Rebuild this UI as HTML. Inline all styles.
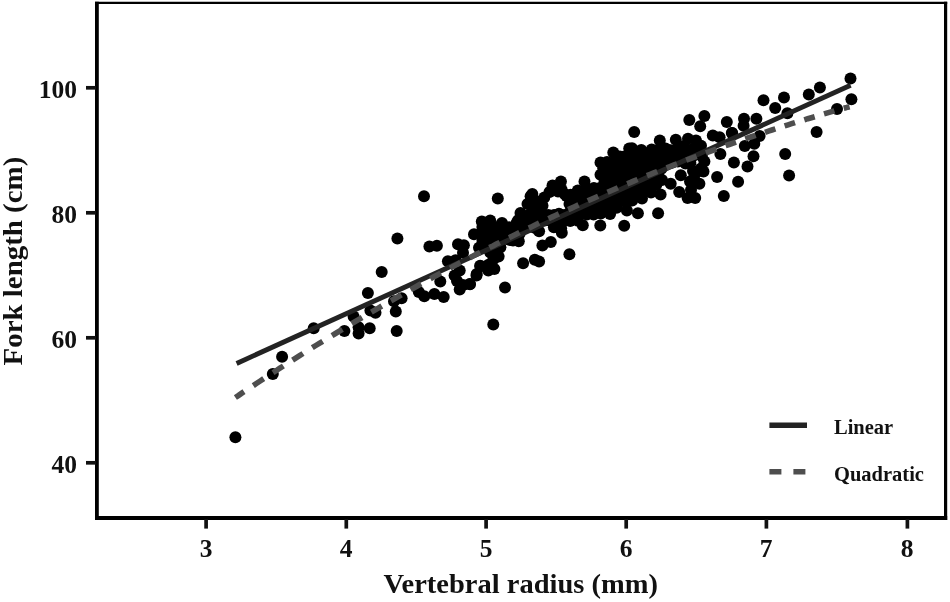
<!DOCTYPE html>
<html><head><meta charset="utf-8"><title>Fork length vs vertebral radius</title>
<style>
html,body{margin:0;padding:0;background:#fff;}
body{width:950px;height:602px;overflow:hidden;position:relative;font-family:"Liberation Serif",serif;font-weight:bold;color:#111;}
svg{position:absolute;left:0;top:0;}
svg text{font-family:"Liberation Serif",serif;font-weight:bold;fill:#111;}
</style></head><body>
<svg width="950" height="602" viewBox="0 0 950 602">
<rect x="0" y="0" width="950" height="602" fill="#fff"/>
<!-- frame -->
<g stroke="#000" fill="none">
<line x1="95" y1="2.9" x2="947.2" y2="2.9" stroke-width="2.2"/>
<line x1="96.9" y1="1.7" x2="96.9" y2="520" stroke-width="3.8"/>
<line x1="945.6" y1="1.7" x2="945.6" y2="520" stroke-width="3.2"/>
<line x1="95" y1="518" x2="947.2" y2="518" stroke-width="4.2"/>
</g>
<!-- ticks -->
<g stroke="#111" stroke-width="3.7">
<line x1="86" y1="87.8" x2="96" y2="87.8"/>
<line x1="86" y1="212.8" x2="96" y2="212.8"/>
<line x1="86" y1="337.8" x2="96" y2="337.8"/>
<line x1="86" y1="462.8" x2="96" y2="462.8"/>
<line x1="206.1" y1="519" x2="206.1" y2="528.6"/>
<line x1="346.3" y1="519" x2="346.3" y2="528.6"/>
<line x1="486.1" y1="519" x2="486.1" y2="528.6"/>
<line x1="626.2" y1="519" x2="626.2" y2="528.6"/>
<line x1="766.4" y1="519" x2="766.4" y2="528.6"/>
<line x1="907.4" y1="519" x2="907.4" y2="528.6"/>
</g>
<g font-size="25.5" text-anchor="end">
<text x="77" y="97.8">100</text>
<text x="77" y="222.8">80</text>
<text x="77" y="347.8">60</text>
<text x="77" y="472.8">40</text>
</g>
<g font-size="25.5" text-anchor="middle">
<text x="206" y="556.8">3</text>
<text x="346.2" y="556.8">4</text>
<text x="486" y="556.8">5</text>
<text x="626.2" y="556.8">6</text>
<text x="766.2" y="556.8">7</text>
<text x="907" y="556.8">8</text>
</g>
<text transform="translate(520.8,592.8) scale(1.018,1)" font-size="28" text-anchor="middle">Vertebral radius (mm)</text>
<text transform="translate(21.9,261.1) rotate(-90) scale(1.033,1)" font-size="28" text-anchor="middle">Fork length (cm)</text>
<!-- data -->
<g fill="#000"><circle cx="235.4" cy="437.2" r="6.0"/><circle cx="272.8" cy="374.0" r="6.0"/><circle cx="282.1" cy="356.8" r="6.0"/><circle cx="313.7" cy="328.3" r="6.0"/><circle cx="344.4" cy="331.0" r="6.0"/><circle cx="358.6" cy="327.2" r="6.0"/><circle cx="358.6" cy="333.5" r="6.0"/><circle cx="353.6" cy="316.5" r="6.0"/><circle cx="369.7" cy="328.3" r="6.0"/><circle cx="396.7" cy="331.0" r="6.0"/><circle cx="395.8" cy="311.4" r="6.0"/><circle cx="370.4" cy="310.5" r="6.0"/><circle cx="375.5" cy="312.8" r="6.0"/><circle cx="367.9" cy="292.9" r="6.0"/><circle cx="381.7" cy="272.1" r="6.0"/><circle cx="397.4" cy="238.4" r="6.0"/><circle cx="424.0" cy="196.3" r="6.0"/><circle cx="394.0" cy="301.3" r="6.0"/><circle cx="401.6" cy="298.2" r="6.0"/><circle cx="418.8" cy="292.0" r="6.0"/><circle cx="424.3" cy="296.2" r="6.0"/><circle cx="434.4" cy="293.9" r="6.0"/><circle cx="443.7" cy="297.1" r="6.0"/><circle cx="440.3" cy="281.5" r="6.0"/><circle cx="459.7" cy="289.5" r="6.0"/><circle cx="469.8" cy="284.0" r="6.0"/><circle cx="476.5" cy="275.5" r="6.0"/><circle cx="480.7" cy="266.2" r="6.0"/><circle cx="454.6" cy="275.5" r="6.0"/><circle cx="459.7" cy="270.4" r="6.0"/><circle cx="447.9" cy="261.2" r="6.0"/><circle cx="455.5" cy="260.3" r="6.0"/><circle cx="463.0" cy="252.7" r="6.0"/><circle cx="458.0" cy="244.3" r="6.0"/><circle cx="463.9" cy="245.2" r="6.0"/><circle cx="429.4" cy="246.5" r="6.0"/><circle cx="436.9" cy="245.7" r="6.0"/><circle cx="474.0" cy="234.2" r="6.0"/><circle cx="486.6" cy="233.4" r="6.0"/><circle cx="483.3" cy="242.6" r="6.0"/><circle cx="488.3" cy="270.4" r="6.0"/><circle cx="493.3" cy="324.4" r="6.0"/><circle cx="505.0" cy="287.6" r="6.0"/><circle cx="523.1" cy="263.2" r="6.0"/><circle cx="534.8" cy="259.8" r="6.0"/><circle cx="539.1" cy="261.5" r="6.0"/><circle cx="569.4" cy="254.2" r="6.0"/><circle cx="542.4" cy="245.5" r="6.0"/><circle cx="550.8" cy="242.1" r="6.0"/><circle cx="624.2" cy="225.7" r="6.0"/><circle cx="600.3" cy="225.5" r="6.0"/><circle cx="582.8" cy="225.3" r="6.0"/><circle cx="561.8" cy="232.8" r="6.0"/><circle cx="557.6" cy="227.0" r="6.0"/><circle cx="539.1" cy="231.2" r="6.0"/><circle cx="476.7" cy="274.1" r="6.0"/><circle cx="470.0" cy="284.2" r="6.0"/><circle cx="480.1" cy="265.7" r="6.0"/><circle cx="488.5" cy="264.8" r="6.0"/><circle cx="494.4" cy="269.1" r="6.0"/><circle cx="498.6" cy="256.4" r="6.0"/><circle cx="481.8" cy="221.4" r="6.0"/><circle cx="490.2" cy="220.6" r="6.0"/><circle cx="497.8" cy="198.4" r="6.0"/><circle cx="502.0" cy="223.0" r="6.0"/><circle cx="518.8" cy="241.3" r="6.0"/><circle cx="513.0" cy="240.5" r="6.0"/><circle cx="520.5" cy="213.0" r="6.0"/><circle cx="532.3" cy="194.0" r="6.0"/><circle cx="527.5" cy="204.0" r="6.0"/><circle cx="530.6" cy="196.3" r="6.0"/><circle cx="544.3" cy="197.4" r="6.0"/><circle cx="552.5" cy="185.6" r="6.0"/><circle cx="560.9" cy="181.4" r="6.0"/><circle cx="584.5" cy="181.4" r="6.0"/><circle cx="577.8" cy="190.6" r="6.0"/><circle cx="600.5" cy="162.5" r="6.0"/><circle cx="613.3" cy="152.6" r="6.0"/><circle cx="619.8" cy="156.5" r="6.0"/><circle cx="629.2" cy="148.5" r="6.0"/><circle cx="634.2" cy="131.9" r="6.0"/><circle cx="689.3" cy="119.9" r="6.0"/><circle cx="704.4" cy="115.9" r="6.0"/><circle cx="700.2" cy="126.3" r="6.0"/><circle cx="726.8" cy="122.1" r="6.0"/><circle cx="744.0" cy="118.7" r="6.0"/><circle cx="756.4" cy="118.8" r="6.0"/><circle cx="712.8" cy="135.6" r="6.0"/><circle cx="719.6" cy="137.3" r="6.0"/><circle cx="732.2" cy="133.0" r="6.0"/><circle cx="696.0" cy="140.6" r="6.0"/><circle cx="701.0" cy="145.7" r="6.0"/><circle cx="675.8" cy="139.8" r="6.0"/><circle cx="659.8" cy="140.6" r="6.0"/><circle cx="632.0" cy="148.2" r="6.0"/><circle cx="641.3" cy="149.9" r="6.0"/><circle cx="720.4" cy="154.1" r="6.0"/><circle cx="733.9" cy="162.5" r="6.0"/><circle cx="747.5" cy="166.6" r="6.0"/><circle cx="753.5" cy="156.3" r="6.0"/><circle cx="744.8" cy="145.9" r="6.0"/><circle cx="754.3" cy="143.8" r="6.0"/><circle cx="717.1" cy="177.0" r="6.0"/><circle cx="738.1" cy="181.8" r="6.0"/><circle cx="680.8" cy="175.2" r="6.0"/><circle cx="699.4" cy="171.0" r="6.0"/><circle cx="704.4" cy="161.5" r="6.0"/><circle cx="637.9" cy="213.2" r="6.0"/><circle cx="658.1" cy="213.2" r="6.0"/><circle cx="610.1" cy="214.0" r="6.0"/><circle cx="626.9" cy="210.6" r="6.0"/><circle cx="723.8" cy="196.0" r="6.0"/><circle cx="687.6" cy="198.0" r="6.0"/><circle cx="695.2" cy="198.0" r="6.0"/><circle cx="679.2" cy="192.1" r="6.0"/><circle cx="660.6" cy="194.6" r="6.0"/><circle cx="670.7" cy="183.7" r="6.0"/><circle cx="699.4" cy="183.7" r="6.0"/><circle cx="701.0" cy="168.5" r="6.0"/><circle cx="850.5" cy="78.6" r="6.0"/><circle cx="851.4" cy="99.2" r="6.0"/><circle cx="837.0" cy="108.9" r="6.0"/><circle cx="819.9" cy="87.4" r="6.0"/><circle cx="808.8" cy="94.6" r="6.0"/><circle cx="784.0" cy="97.5" r="6.0"/><circle cx="763.5" cy="100.2" r="6.0"/><circle cx="775.2" cy="108.1" r="6.0"/><circle cx="787.4" cy="113.2" r="6.0"/><circle cx="816.6" cy="132.1" r="6.0"/><circle cx="743.6" cy="125.8" r="6.0"/><circle cx="731.8" cy="133.0" r="6.0"/><circle cx="759.6" cy="135.9" r="6.0"/><circle cx="785.2" cy="154.0" r="6.0"/><circle cx="789.1" cy="175.6" r="6.0"/><circle cx="490.2" cy="230.4" r="6.0"/><circle cx="482.6" cy="243.0" r="6.0"/><circle cx="495.3" cy="253.2" r="6.0"/><circle cx="505.4" cy="230.4" r="6.0"/><circle cx="516.7" cy="222.8" r="6.0"/><circle cx="651.7" cy="149.6" r="6.0"/><circle cx="658.5" cy="149.7" r="6.0"/><circle cx="665.5" cy="148.6" r="6.0"/><circle cx="670.8" cy="150.2" r="6.0"/><circle cx="677.8" cy="149.0" r="6.0"/><circle cx="685.7" cy="149.4" r="6.0"/><circle cx="691.9" cy="149.5" r="6.0"/><circle cx="698.0" cy="148.8" r="6.0"/><circle cx="623.3" cy="156.7" r="6.0"/><circle cx="629.5" cy="156.5" r="6.0"/><circle cx="636.3" cy="155.1" r="6.0"/><circle cx="643.0" cy="156.2" r="6.0"/><circle cx="648.6" cy="155.1" r="6.0"/><circle cx="656.2" cy="155.9" r="6.0"/><circle cx="662.4" cy="156.8" r="6.0"/><circle cx="668.9" cy="156.8" r="6.0"/><circle cx="674.8" cy="156.6" r="6.0"/><circle cx="681.4" cy="156.9" r="6.0"/><circle cx="688.8" cy="155.2" r="6.0"/><circle cx="693.8" cy="155.4" r="6.0"/><circle cx="701.9" cy="155.9" r="6.0"/><circle cx="607.0" cy="162.1" r="6.0"/><circle cx="613.3" cy="162.3" r="6.0"/><circle cx="619.5" cy="162.7" r="6.0"/><circle cx="626.4" cy="163.3" r="6.0"/><circle cx="633.1" cy="163.4" r="6.0"/><circle cx="640.0" cy="163.5" r="6.0"/><circle cx="646.1" cy="161.8" r="6.0"/><circle cx="653.0" cy="163.4" r="6.0"/><circle cx="659.6" cy="162.6" r="6.0"/><circle cx="665.7" cy="161.9" r="6.0"/><circle cx="672.4" cy="162.6" r="6.0"/><circle cx="677.8" cy="161.6" r="6.0"/><circle cx="685.5" cy="163.5" r="6.0"/><circle cx="690.4" cy="163.1" r="6.0"/><circle cx="603.3" cy="168.3" r="6.0"/><circle cx="609.6" cy="169.5" r="6.0"/><circle cx="617.2" cy="168.1" r="6.0"/><circle cx="623.2" cy="168.1" r="6.0"/><circle cx="629.9" cy="168.7" r="6.0"/><circle cx="636.8" cy="170.0" r="6.0"/><circle cx="642.5" cy="170.0" r="6.0"/><circle cx="648.6" cy="168.2" r="6.0"/><circle cx="655.7" cy="168.1" r="6.0"/><circle cx="661.4" cy="168.8" r="6.0"/><circle cx="600.5" cy="174.8" r="6.0"/><circle cx="605.8" cy="176.2" r="6.0"/><circle cx="612.9" cy="176.4" r="6.0"/><circle cx="620.5" cy="175.3" r="6.0"/><circle cx="626.2" cy="175.5" r="6.0"/><circle cx="633.0" cy="175.7" r="6.0"/><circle cx="639.4" cy="175.7" r="6.0"/><circle cx="646.6" cy="175.5" r="6.0"/><circle cx="652.1" cy="175.9" r="6.0"/><circle cx="658.2" cy="175.1" r="6.0"/><circle cx="604.5" cy="182.0" r="6.0"/><circle cx="610.1" cy="181.0" r="6.0"/><circle cx="616.3" cy="182.2" r="6.0"/><circle cx="622.0" cy="182.2" r="6.0"/><circle cx="629.8" cy="181.1" r="6.0"/><circle cx="636.3" cy="181.9" r="6.0"/><circle cx="642.9" cy="181.7" r="6.0"/><circle cx="649.4" cy="182.5" r="6.0"/><circle cx="654.5" cy="181.1" r="6.0"/><circle cx="561.6" cy="189.4" r="6.0"/><circle cx="586.8" cy="188.4" r="6.0"/><circle cx="593.9" cy="188.1" r="6.0"/><circle cx="600.0" cy="188.1" r="6.0"/><circle cx="606.5" cy="188.7" r="6.0"/><circle cx="612.9" cy="188.3" r="6.0"/><circle cx="620.3" cy="187.6" r="6.0"/><circle cx="626.4" cy="189.0" r="6.0"/><circle cx="632.4" cy="187.9" r="6.0"/><circle cx="639.9" cy="188.0" r="6.0"/><circle cx="645.1" cy="188.4" r="6.0"/><circle cx="564.9" cy="194.2" r="6.0"/><circle cx="570.6" cy="194.7" r="6.0"/><circle cx="578.2" cy="194.9" r="6.0"/><circle cx="584.7" cy="194.3" r="6.0"/><circle cx="590.2" cy="195.3" r="6.0"/><circle cx="597.8" cy="194.9" r="6.0"/><circle cx="603.0" cy="194.2" r="6.0"/><circle cx="610.1" cy="194.4" r="6.0"/><circle cx="617.1" cy="195.7" r="6.0"/><circle cx="622.4" cy="194.6" r="6.0"/><circle cx="630.1" cy="195.3" r="6.0"/><circle cx="636.6" cy="194.7" r="6.0"/><circle cx="641.8" cy="194.6" r="6.0"/><circle cx="535.8" cy="201.0" r="6.0"/><circle cx="541.4" cy="201.3" r="6.0"/><circle cx="574.1" cy="201.3" r="6.0"/><circle cx="581.6" cy="200.8" r="6.0"/><circle cx="586.3" cy="202.4" r="6.0"/><circle cx="594.5" cy="202.5" r="6.0"/><circle cx="600.1" cy="202.4" r="6.0"/><circle cx="607.6" cy="200.9" r="6.0"/><circle cx="613.7" cy="202.2" r="6.0"/><circle cx="620.1" cy="201.5" r="6.0"/><circle cx="625.8" cy="201.2" r="6.0"/><circle cx="632.2" cy="200.6" r="6.0"/><circle cx="532.2" cy="207.6" r="6.0"/><circle cx="539.1" cy="207.1" r="6.0"/><circle cx="571.8" cy="208.4" r="6.0"/><circle cx="578.3" cy="208.8" r="6.0"/><circle cx="584.8" cy="208.2" r="6.0"/><circle cx="589.5" cy="208.5" r="6.0"/><circle cx="596.3" cy="207.6" r="6.0"/><circle cx="603.8" cy="208.0" r="6.0"/><circle cx="609.8" cy="208.9" r="6.0"/><circle cx="616.7" cy="207.7" r="6.0"/><circle cx="528.3" cy="215.2" r="6.0"/><circle cx="535.2" cy="215.1" r="6.0"/><circle cx="541.5" cy="213.9" r="6.0"/><circle cx="548.3" cy="215.1" r="6.0"/><circle cx="554.1" cy="215.1" r="6.0"/><circle cx="562.1" cy="215.1" r="6.0"/><circle cx="568.4" cy="213.5" r="6.0"/><circle cx="574.5" cy="215.2" r="6.0"/><circle cx="579.8" cy="214.0" r="6.0"/><circle cx="586.8" cy="214.6" r="6.0"/><circle cx="593.6" cy="214.4" r="6.0"/><circle cx="600.8" cy="213.5" r="6.0"/><circle cx="518.1" cy="220.3" r="6.0"/><circle cx="524.7" cy="220.1" r="6.0"/><circle cx="532.9" cy="221.7" r="6.0"/><circle cx="537.7" cy="221.0" r="6.0"/><circle cx="544.6" cy="220.6" r="6.0"/><circle cx="551.2" cy="221.3" r="6.0"/><circle cx="558.2" cy="220.7" r="6.0"/><circle cx="563.9" cy="220.7" r="6.0"/><circle cx="570.2" cy="221.1" r="6.0"/><circle cx="577.9" cy="220.8" r="6.0"/><circle cx="482.4" cy="226.9" r="6.0"/><circle cx="489.5" cy="227.7" r="6.0"/><circle cx="496.8" cy="227.3" r="6.0"/><circle cx="503.4" cy="227.7" r="6.0"/><circle cx="509.1" cy="227.2" r="6.0"/><circle cx="515.7" cy="227.9" r="6.0"/><circle cx="522.1" cy="227.9" r="6.0"/><circle cx="528.7" cy="227.0" r="6.0"/><circle cx="535.3" cy="227.9" r="6.0"/><circle cx="553.9" cy="227.3" r="6.0"/><circle cx="561.1" cy="228.3" r="6.0"/><circle cx="480.9" cy="233.7" r="6.0"/><circle cx="487.3" cy="234.6" r="6.0"/><circle cx="492.5" cy="233.9" r="6.0"/><circle cx="498.7" cy="234.6" r="6.0"/><circle cx="506.3" cy="234.8" r="6.0"/><circle cx="513.1" cy="234.3" r="6.0"/><circle cx="519.5" cy="234.1" r="6.0"/><circle cx="482.5" cy="240.7" r="6.0"/><circle cx="488.8" cy="239.8" r="6.0"/><circle cx="496.8" cy="239.6" r="6.0"/><circle cx="501.9" cy="239.7" r="6.0"/><circle cx="510.0" cy="239.9" r="6.0"/><circle cx="479.0" cy="247.7" r="6.0"/><circle cx="485.7" cy="247.7" r="6.0"/><circle cx="493.3" cy="247.7" r="6.0"/><circle cx="500.4" cy="247.2" r="6.0"/><circle cx="490.3" cy="252.6" r="6.0"/><circle cx="496.8" cy="253.5" r="6.0"/><circle cx="493.4" cy="259.2" r="6.0"/><circle cx="457.0" cy="281.0" r="6.0"/><circle cx="463.0" cy="285.0" r="6.0"/><circle cx="558.0" cy="191.5" r="6.0"/><circle cx="566.5" cy="196.0" r="6.0"/><circle cx="569.5" cy="204.0" r="6.0"/><circle cx="559.0" cy="213.8" r="6.0"/><circle cx="542.5" cy="205.8" r="6.0"/><circle cx="549.5" cy="192.0" r="6.0"/><circle cx="691.0" cy="190.0" r="6.0"/><circle cx="694.0" cy="178.0" r="6.0"/><circle cx="656.3" cy="184.7" r="6.0"/><circle cx="651.0" cy="192.5" r="6.0"/><circle cx="690.0" cy="181.6" r="6.0"/><circle cx="693.0" cy="171.0" r="6.0"/><circle cx="662.0" cy="180.0" r="6.0"/><circle cx="642.0" cy="198.5" r="6.0"/><circle cx="688.0" cy="138.8" r="6.0"/><circle cx="684.0" cy="146.0" r="6.0"/><circle cx="703.5" cy="171.5" r="6.0"/></g>
<!-- fits -->
<line x1="236.6" y1="363.4" x2="850.6" y2="85.2" stroke="#232323" stroke-width="4.9"/>
<path d="M235.4 397.5 L238.3 395.6 L241.1 393.6 L244.0 391.7 M253.3 385.6 L256.7 383.3 L260.2 381.0 L263.7 378.7 M273.0 372.7 L276.4 370.5 L279.9 368.2 L283.4 366.0 M292.6 360.1 L296.1 357.9 L299.6 355.7 L303.0 353.5 M312.3 347.7 L315.8 345.5 L319.3 343.4 L322.7 341.3 M332.0 335.6 L335.5 333.5 L338.9 331.4 L342.4 329.3 M351.7 323.7 L355.1 321.6 L358.6 319.6 L362.1 317.5 M371.4 312.1 L374.8 310.1 L378.3 308.1 L381.8 306.0 M391.0 300.7 L394.5 298.7 L398.0 296.8 L401.4 294.8 M410.7 289.6 L414.2 287.7 L417.7 285.7 L421.1 283.8 M430.4 278.7 L433.9 276.8 L437.3 275.0 L440.8 273.1 M450.1 268.1 L453.5 266.3 L457.0 264.4 L460.5 262.6 M469.8 257.7 L473.2 255.9 L476.7 254.1 L480.2 252.4 M489.4 247.6 L492.9 245.9 L496.4 244.1 L499.8 242.4 M509.1 237.7 L512.6 236.0 L516.1 234.3 L519.5 232.6 M528.8 228.1 L532.3 226.5 L535.7 224.8 L539.2 223.1 M548.5 218.8 L551.9 217.1 L555.4 215.5 L558.9 213.9 M568.2 209.6 L571.6 208.1 L575.1 206.5 L578.6 204.9 M587.8 200.8 L591.3 199.2 L594.8 197.7 L598.2 196.2 M607.5 192.2 L611.0 190.7 L614.5 189.2 L617.9 187.7 M627.2 183.8 L630.7 182.4 L634.1 180.9 L637.6 179.5 M646.9 175.7 L650.3 174.3 L653.8 172.9 L657.3 171.5 M666.6 167.8 L670.0 166.5 L673.5 165.1 L677.0 163.8 M686.2 160.2 L689.7 158.9 L693.2 157.6 L696.6 156.3 M705.9 152.8 L709.4 151.6 L712.9 150.3 L716.3 149.1 M725.6 145.7 L729.1 144.5 L732.5 143.3 L736.0 142.1 M745.3 138.9 L748.7 137.7 L752.2 136.5 L755.7 135.3 M765.0 132.3 L768.4 131.1 L771.9 130.0 L775.4 128.9 M784.6 125.9 L788.1 124.8 L791.6 123.7 L795.0 122.6 M804.3 119.8 L807.8 118.7 L811.3 117.7 L814.7 116.7 M824.0 113.9 L827.5 112.9 L830.9 111.9 L834.4 110.9 M843.7 108.3 L845.7 107.8 L847.6 107.2 L849.6 106.7" fill="none" stroke="#4e4e4e" stroke-width="5.6"/>
<!-- legend -->
<line x1="769.4" y1="425.2" x2="807" y2="425.2" stroke="#232323" stroke-width="5.6"/>
<line x1="769.4" y1="471.8" x2="805.4" y2="471.8" stroke="#4e4e4e" stroke-width="5.6" stroke-dasharray="12 12"/>
<text x="834" y="434" font-size="20.5">Linear</text>
<text x="834" y="480.6" font-size="20.5">Quadratic</text>
</svg>
</body></html>
